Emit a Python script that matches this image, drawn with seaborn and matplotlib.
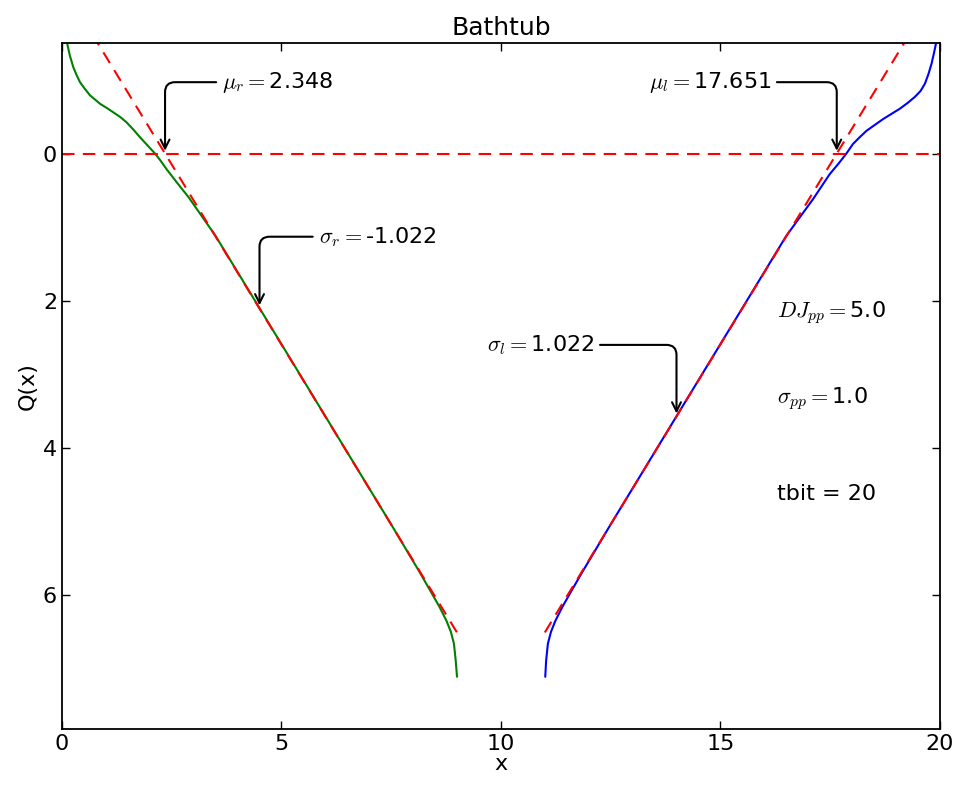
import numpy as np
import pandas as pd
import matplotlib
matplotlib.use("Agg")
import matplotlib.pyplot as plt
import seaborn as sns

# bathtub curve (x in UI, Q(x))
left_x = [0.12, 0.18, 0.26, 0.33, 0.41, 0.52, 0.64, 0.87, 1.02, 1.17, 1.32, 1.47, 1.62,
          1.78, 1.95, 2.12, 2.25, 2.38, 2.60, 2.88, 3.50, 4.50, 5.50, 6.50, 7.50, 7.70,
          8.15, 8.40, 8.60, 8.76, 8.86, 8.93, 8.97, 9.00]
left_q = [-1.49, -1.33, -1.17, -1.07, -0.97, -0.88, -0.79, -0.675, -0.62, -0.56, -0.50,
          -0.425, -0.33, -0.22, -0.11, 0.0, 0.10, 0.21, 0.38, 0.59, 1.12, 2.10, 3.08,
          4.06, 5.04, 5.24, 5.69, 5.95, 6.16, 6.35, 6.50, 6.66, 6.89, 7.11]

right_x = [19.91, 19.86, 19.81, 19.74, 19.66, 19.56, 19.43, 19.27, 19.09, 18.90, 18.71,
           18.52, 18.33, 18.17, 18.02, 17.87, 17.70, 17.49, 17.30, 17.11, 16.50, 15.50,
           14.50, 13.50, 12.50, 12.28, 11.85, 11.60, 11.40, 11.24, 11.14, 11.07, 11.03, 11.01]
right_q = [-1.49, -1.35, -1.22, -1.08, -0.95, -0.85, -0.77, -0.69, -0.61, -0.54, -0.47,
           -0.39, -0.31, -0.22, -0.13, 0.0, 0.13, 0.28, 0.45, 0.62, 1.12, 2.10, 3.08,
           4.06, 5.04, 5.26, 5.69, 5.95, 6.16, 6.35, 6.50, 6.66, 6.89, 7.11]

# fitted parameters shown on the chart
mu_r, sigma_r = 2.348, -1.022
mu_l, sigma_l = 17.651, 1.022
dj_pp, sigma_pp, tbit = 5.0, 1.0, 20
fit_left_x = [0.0, 9.0]
fit_right_x = [11.0, 20.0]

sns.set_style("ticks")
plt.rcParams['font.family'] = ['DejaVu Sans']
plt.rcParams['mathtext.fontset'] = 'cm'
plt.rcParams['xtick.direction'] = 'in'
plt.rcParams['ytick.direction'] = 'in'
plt.rcParams['xtick.top'] = True
plt.rcParams['ytick.right'] = True
plt.rcParams['axes.linewidth'] = 1.3
plt.rcParams['axes.edgecolor'] = 'black'
plt.rcParams['text.color'] = 'black'
plt.rcParams['axes.labelcolor'] = 'black'
plt.rcParams['xtick.color'] = 'black'
plt.rcParams['ytick.color'] = 'black'

fig = plt.figure(figsize=(9.61, 7.85), dpi=100)
ax = fig.add_axes([0.0645, 0.0713, 0.9135, 0.8737])

df_l = pd.DataFrame({'x': left_x, 'q': left_q})
df_r = pd.DataFrame({'x': right_x, 'q': right_q})
sns.lineplot(data=df_l, x='x', y='q', color='green', lw=1.5, ax=ax, estimator=None, sort=False)
sns.lineplot(data=df_r, x='x', y='q', color='blue', lw=1.5, ax=ax, estimator=None, sort=False)

dash = (0, (6, 4))
fl = np.array(fit_left_x)
fr = np.array(fit_right_x)
ax.plot(fl, (mu_r - fl) / sigma_r, color='red', lw=1.5, ls=dash)
ax.plot(fr, (mu_l - fr) / sigma_l, color='red', lw=1.5, ls=dash)
ax.axhline(0, color='red', lw=1.5, ls=dash)

ax.set_xlim(0, 20)
ax.set_ylim(7.82, -1.5)
ax.set_xticks([0, 5, 10, 15, 20])
ax.set_yticks([0, 2, 4, 6])
ax.tick_params(labelsize=16, length=6, width=1, color='black')
ax.set_xlabel('x', fontsize=16, labelpad=0)
ax.set_ylabel('Q(x)', fontsize=16, labelpad=4)
ax.set_title('Bathtub', fontsize=18, pad=6)

arrow = dict(arrowstyle='->', color='black', lw=1.5,
             connectionstyle='angle,angleA=0,angleB=90,rad=10')
fs = 16
ax.annotate(r'$\mu_r=$%.3f' % mu_r, xy=(mu_r, 0), xytext=(3.65, -0.97),
            ha='left', va='center', fontsize=fs, arrowprops=arrow)
ax.annotate(r'$\mu_l=$%.3f' % mu_l, xy=(mu_l, 0), xytext=(16.15, -0.97),
            ha='right', va='center', fontsize=fs, arrowprops=arrow)
ax.annotate(r'$\sigma_r=$%.3f' % sigma_r, xy=(4.5, 2.1), xytext=(5.85, 1.13),
            ha='left', va='center', fontsize=fs, arrowprops=arrow)
ax.annotate(r'$\sigma_l=$%.3f' % sigma_l, xy=(14.0, 3.57), xytext=(12.12, 2.6),
            ha='right', va='center', fontsize=fs, arrowprops=arrow)

ax.text(16.3, 2.16, r'$DJ_{pp}=$%.1f' % dj_pp, fontsize=fs, ha='left', va='center')
ax.text(16.3, 3.33, r'$\sigma_{pp}=$%.1f' % sigma_pp, fontsize=fs, ha='left', va='center')
ax.text(16.3, 4.63, 'tbit = %d' % tbit, fontsize=fs, ha='left', va='center')

fig.savefig('out.png', dpi=100)
